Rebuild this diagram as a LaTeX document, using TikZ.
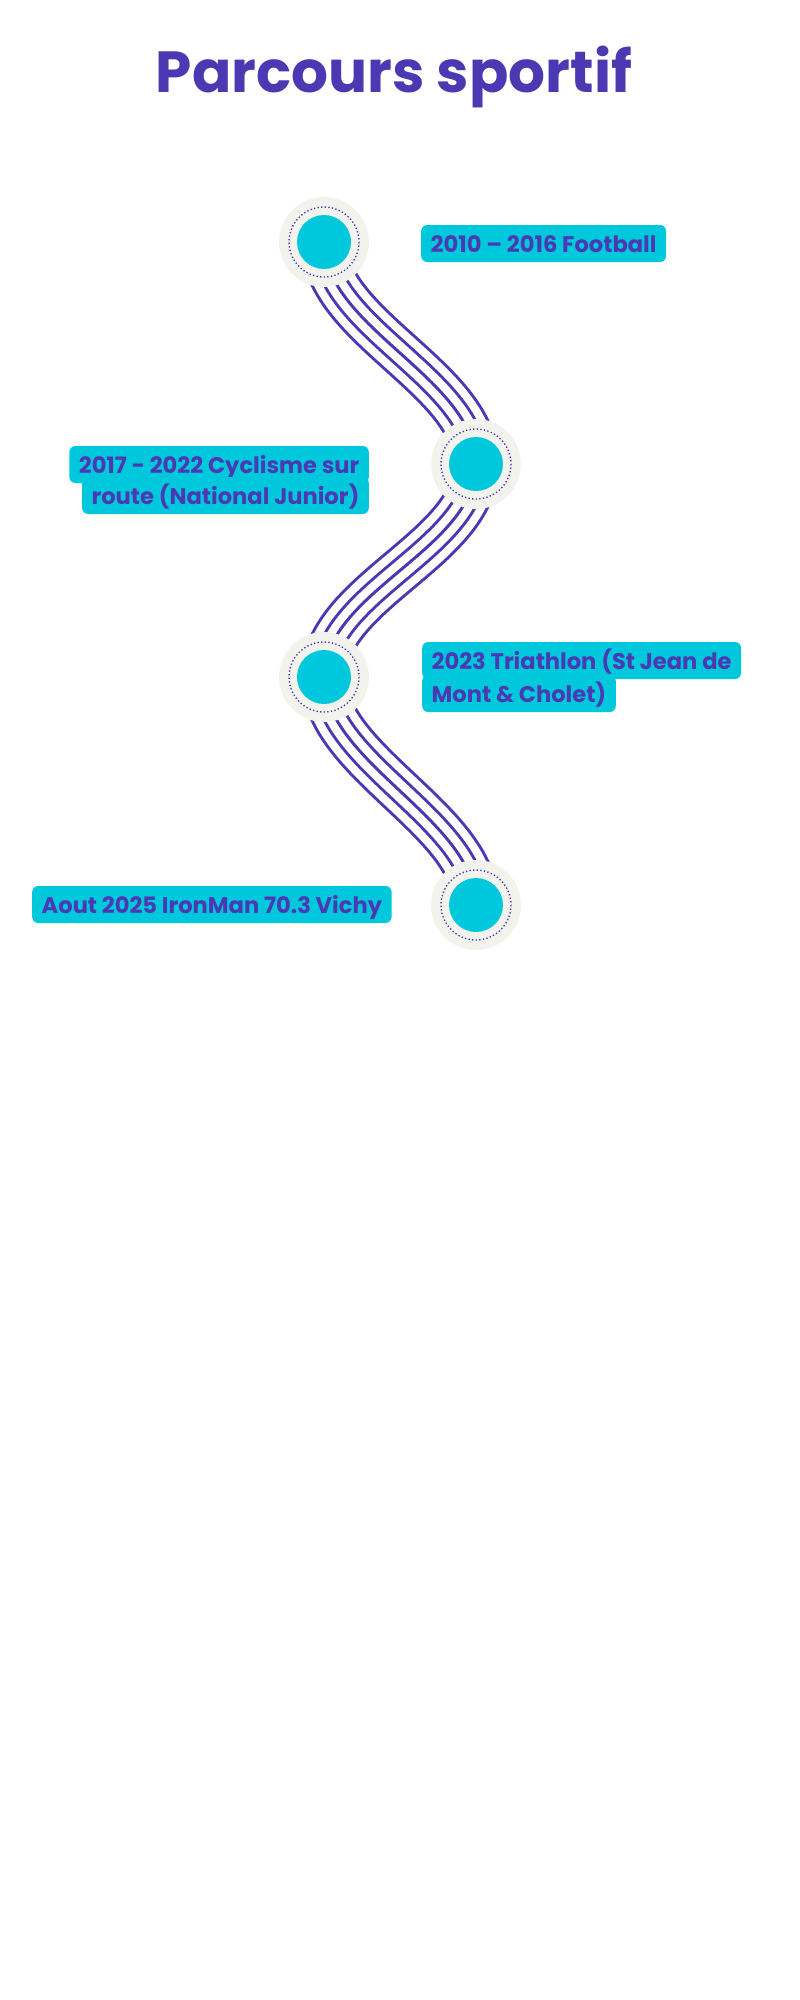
\documentclass[tikz,border=0pt]{standalone}
\usepackage{fontspec}
\setmainfont{Poppins}
\begin{document}
\begin{tikzpicture}[x=1pt,y=-1pt]
\definecolor{purp}{RGB}{75,57,180}
\definecolor{cyanc}{RGB}{0,200,220}
\definecolor{greyc}{RGB}{243,243,238}
\pgfdeclarelayer{bg}
\pgfsetlayers{bg,main}
\tikzset{
  outerdisc/.style={circle,fill=greyc,minimum size=90pt,inner sep=0pt},
  innerdisc/.style={circle,fill=cyanc,minimum size=54pt,inner sep=0pt},
  dotring/.style={draw=purp,line width=1.4pt,dash pattern=on 1.3pt off 2.3pt},
  strands/.style={
    preaction={draw=purp,line width=47pt},
    preaction={draw=white,line width=41pt},
    preaction={draw=purp,line width=25pt},
    preaction={draw=white,line width=19pt},
    draw=purp,line width=3pt},
  lbl/.style={fill=cyanc,text=purp,rounded corners=6pt,inner xsep=9.5pt,inner ysep=7pt,
    text height=20pt,text depth=3pt,font=\fontsize{22.6}{28}\selectfont\bfseries},
  title/.style={text=purp,font=\fontsize{58}{66}\selectfont\bfseries,inner sep=0pt}
}
\useasboundingbox (0,0) rectangle (800,2000);

\node[title,anchor=base] (t) at (394,92) {Parcours sportif};

% milestones
\foreach \n/\x/\y in {1/324/242,2/476/464,3/324/677,4/476/905}{
  \node[outerdisc] (c\n) at (\x,\y) {};
  \node[innerdisc] (d\n) at (c\n) {};
  \draw[dotring] (c\n) circle[radius=35];
}

% background and strands
\begin{pgfonlayer}{bg}
\fill[white] (0,0) rectangle (800,2000);
\foreach \a/\b in {c1/c2,c2/c3,c3/c4}{
  \path[strands] (\a.center) .. controls +(0,85) and +(0,-85) .. (\b.center);
}
\end{pgfonlayer}

% labels
\node[lbl,anchor=base west] (l1) at (421,252) {2010 – 2016 Football};
\node[lbl,anchor=base east] (l2a) at (369,473) {2017 - 2022 Cyclisme sur};
\node[lbl,anchor=base east] (l2b) at (369,504) {route (National Junior)};
\node[lbl,anchor=base west] (l3a) at (422,669) {2023 Triathlon (St Jean de};
\node[lbl,anchor=base west] (l3b) at (422,702) {Mont \& Cholet)};
\node[lbl,anchor=base west] (l4) at (32,913) {Aout 2025 IronMan 70.3 Vichy};
\end{tikzpicture}
\end{document}
